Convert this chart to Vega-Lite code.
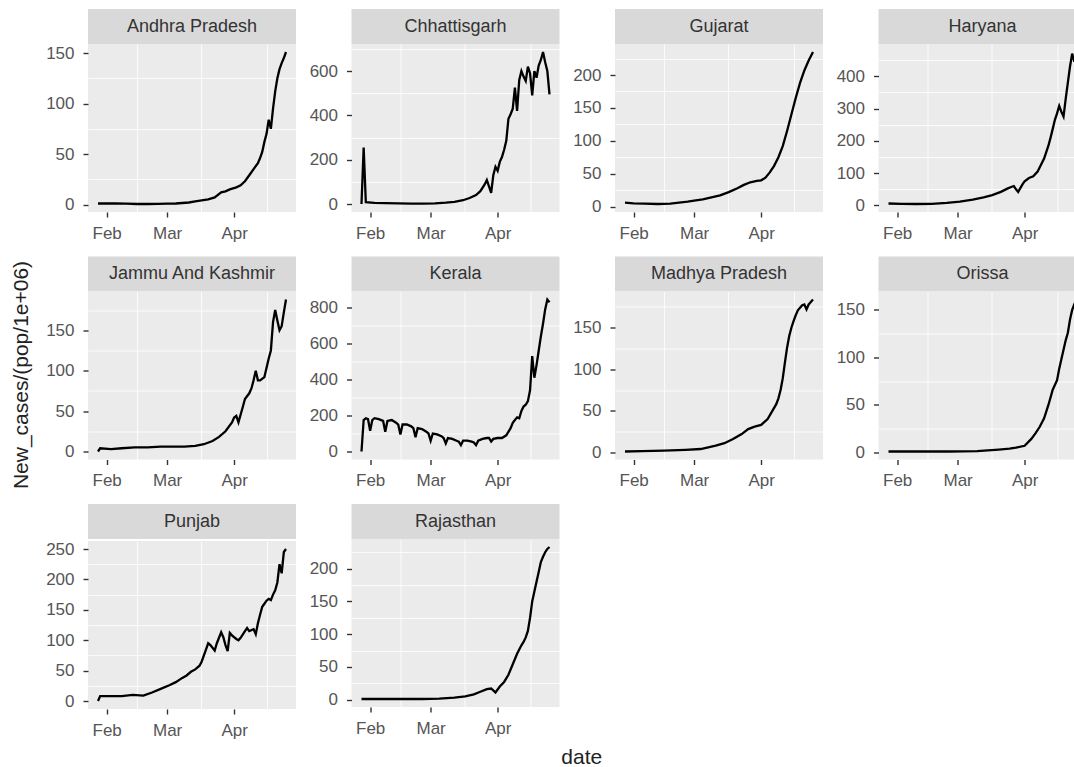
{
"$schema":"https://vega.github.io/schema/vega-lite/v6.json",
"background":"#FFFFFF",
"padding":{"left":10,"top":9,"right":0,"bottom":0},
"title":{"text":"date","orient":"bottom","anchor":"middle","fontSize":21,"fontWeight":"normal","color":"#222222","offset":6,"dx":33},
"datasets":{
"Andhra Pradesh":[{"date":"2021-01-28","v":1},{"date":"2021-02-01","v":1},{"date":"2021-02-05","v":1},{"date":"2021-02-10","v":0.8},{"date":"2021-02-15","v":0.5},{"date":"2021-02-20","v":0.5},{"date":"2021-02-25","v":0.6},{"date":"2021-03-01","v":0.8},{"date":"2021-03-05","v":1},{"date":"2021-03-08","v":1.5},{"date":"2021-03-11","v":2},{"date":"2021-03-14","v":3},{"date":"2021-03-17","v":4},{"date":"2021-03-20","v":5},{"date":"2021-03-23","v":7},{"date":"2021-03-26","v":12},{"date":"2021-03-28","v":13},{"date":"2021-03-30","v":15},{"date":"2021-04-02","v":17},{"date":"2021-04-04","v":19},{"date":"2021-04-06","v":23},{"date":"2021-04-08","v":29},{"date":"2021-04-10","v":35},{"date":"2021-04-12","v":41},{"date":"2021-04-13","v":46},{"date":"2021-04-14","v":52},{"date":"2021-04-15","v":62},{"date":"2021-04-16","v":70},{"date":"2021-04-17","v":84},{"date":"2021-04-18","v":75},{"date":"2021-04-19","v":95},{"date":"2021-04-20","v":112},{"date":"2021-04-21","v":125},{"date":"2021-04-22","v":134},{"date":"2021-04-23","v":140},{"date":"2021-04-24","v":145},{"date":"2021-04-25","v":151}],
"Chhattisgarh":[{"date":"2021-01-28","v":0},{"date":"2021-01-29","v":255},{"date":"2021-01-30","v":8},{"date":"2021-02-03","v":5},{"date":"2021-02-08","v":4},{"date":"2021-02-14","v":3},{"date":"2021-02-20","v":2},{"date":"2021-02-26","v":2},{"date":"2021-03-03","v":3},{"date":"2021-03-08","v":6},{"date":"2021-03-12","v":10},{"date":"2021-03-16","v":17},{"date":"2021-03-19","v":27},{"date":"2021-03-22","v":40},{"date":"2021-03-24","v":58},{"date":"2021-03-26","v":88},{"date":"2021-03-27","v":108},{"date":"2021-03-28","v":80},{"date":"2021-03-29","v":50},{"date":"2021-03-30","v":130},{"date":"2021-03-31","v":168},{"date":"2021-04-01","v":150},{"date":"2021-04-02","v":190},{"date":"2021-04-03","v":212},{"date":"2021-04-04","v":245},{"date":"2021-04-05","v":285},{"date":"2021-04-06","v":385},{"date":"2021-04-07","v":405},{"date":"2021-04-08","v":430},{"date":"2021-04-09","v":525},{"date":"2021-04-10","v":420},{"date":"2021-04-11","v":560},{"date":"2021-04-12","v":600},{"date":"2021-04-13","v":575},{"date":"2021-04-14","v":555},{"date":"2021-04-15","v":620},{"date":"2021-04-16","v":590},{"date":"2021-04-17","v":490},{"date":"2021-04-18","v":600},{"date":"2021-04-19","v":570},{"date":"2021-04-20","v":625},{"date":"2021-04-21","v":650},{"date":"2021-04-22","v":686},{"date":"2021-04-23","v":640},{"date":"2021-04-24","v":600},{"date":"2021-04-25","v":495}],
"Gujarat":[{"date":"2021-01-28","v":6},{"date":"2021-02-01","v":5},{"date":"2021-02-06","v":4.5},{"date":"2021-02-12","v":4},{"date":"2021-02-18","v":4.5},{"date":"2021-02-22","v":6},{"date":"2021-02-26","v":7.5},{"date":"2021-03-01","v":9},{"date":"2021-03-05","v":11},{"date":"2021-03-09","v":14},{"date":"2021-03-13","v":17},{"date":"2021-03-17","v":22},{"date":"2021-03-21","v":28},{"date":"2021-03-24","v":33},{"date":"2021-03-27","v":37},{"date":"2021-03-30","v":39},{"date":"2021-04-01","v":40},{"date":"2021-04-03","v":44},{"date":"2021-04-05","v":52},{"date":"2021-04-07","v":62},{"date":"2021-04-09","v":75},{"date":"2021-04-11","v":92},{"date":"2021-04-13","v":115},{"date":"2021-04-15","v":140},{"date":"2021-04-17","v":165},{"date":"2021-04-19","v":188},{"date":"2021-04-21","v":207},{"date":"2021-04-23","v":222},{"date":"2021-04-25","v":235}],
"Haryana":[{"date":"2021-01-28","v":6},{"date":"2021-02-03","v":5},{"date":"2021-02-10","v":4.5},{"date":"2021-02-17","v":5},{"date":"2021-02-24","v":8},{"date":"2021-03-02","v":12},{"date":"2021-03-08","v":18},{"date":"2021-03-13","v":25},{"date":"2021-03-17","v":32},{"date":"2021-03-21","v":42},{"date":"2021-03-24","v":52},{"date":"2021-03-26","v":58},{"date":"2021-03-27","v":60},{"date":"2021-03-28","v":50},{"date":"2021-03-29","v":42},{"date":"2021-03-31","v":65},{"date":"2021-04-01","v":75},{"date":"2021-04-03","v":85},{"date":"2021-04-05","v":90},{"date":"2021-04-07","v":105},{"date":"2021-04-08","v":118},{"date":"2021-04-10","v":145},{"date":"2021-04-11","v":165},{"date":"2021-04-12","v":185},{"date":"2021-04-13","v":210},{"date":"2021-04-14","v":237},{"date":"2021-04-15","v":265},{"date":"2021-04-16","v":285},{"date":"2021-04-17","v":308},{"date":"2021-04-18","v":290},{"date":"2021-04-19","v":275},{"date":"2021-04-20","v":330},{"date":"2021-04-21","v":380},{"date":"2021-04-22","v":430},{"date":"2021-04-23","v":470},{"date":"2021-04-24","v":445},{"date":"2021-04-25","v":475}],
"Jammu And Kashmir":[{"date":"2021-01-28","v":0},{"date":"2021-01-29","v":4},{"date":"2021-02-03","v":3},{"date":"2021-02-08","v":4},{"date":"2021-02-14","v":5},{"date":"2021-02-20","v":5},{"date":"2021-02-26","v":6},{"date":"2021-03-03","v":6},{"date":"2021-03-09","v":6},{"date":"2021-03-14","v":7},{"date":"2021-03-18","v":9},{"date":"2021-03-22","v":13},{"date":"2021-03-25","v":18},{"date":"2021-03-28","v":25},{"date":"2021-03-31","v":36},{"date":"2021-04-01","v":42},{"date":"2021-04-02","v":44},{"date":"2021-04-03","v":36},{"date":"2021-04-05","v":55},{"date":"2021-04-06","v":65},{"date":"2021-04-08","v":72},{"date":"2021-04-09","v":78},{"date":"2021-04-10","v":88},{"date":"2021-04-11","v":100},{"date":"2021-04-12","v":88},{"date":"2021-04-13","v":88},{"date":"2021-04-15","v":92},{"date":"2021-04-17","v":115},{"date":"2021-04-18","v":125},{"date":"2021-04-19","v":160},{"date":"2021-04-20","v":175},{"date":"2021-04-21","v":162},{"date":"2021-04-22","v":150},{"date":"2021-04-23","v":155},{"date":"2021-04-24","v":172},{"date":"2021-04-25","v":188}],
"Kerala":[{"date":"2021-01-28","v":0},{"date":"2021-01-29","v":175},{"date":"2021-01-30","v":185},{"date":"2021-01-31","v":180},{"date":"2021-02-01","v":115},{"date":"2021-02-02","v":175},{"date":"2021-02-03","v":185},{"date":"2021-02-05","v":180},{"date":"2021-02-07","v":170},{"date":"2021-02-08","v":110},{"date":"2021-02-09","v":170},{"date":"2021-02-11","v":175},{"date":"2021-02-13","v":160},{"date":"2021-02-14","v":150},{"date":"2021-02-15","v":95},{"date":"2021-02-16","v":150},{"date":"2021-02-18","v":150},{"date":"2021-02-20","v":140},{"date":"2021-02-21","v":130},{"date":"2021-02-22","v":80},{"date":"2021-02-23","v":130},{"date":"2021-02-25","v":125},{"date":"2021-02-27","v":110},{"date":"2021-02-28","v":100},{"date":"2021-03-01","v":60},{"date":"2021-03-02","v":100},{"date":"2021-03-04","v":95},{"date":"2021-03-06","v":85},{"date":"2021-03-07","v":75},{"date":"2021-03-08","v":45},{"date":"2021-03-09","v":75},{"date":"2021-03-11","v":70},{"date":"2021-03-13","v":60},{"date":"2021-03-14","v":55},{"date":"2021-03-15","v":35},{"date":"2021-03-16","v":60},{"date":"2021-03-18","v":60},{"date":"2021-03-20","v":55},{"date":"2021-03-21","v":50},{"date":"2021-03-22","v":35},{"date":"2021-03-23","v":60},{"date":"2021-03-25","v":70},{"date":"2021-03-27","v":75},{"date":"2021-03-28","v":75},{"date":"2021-03-29","v":55},{"date":"2021-03-30","v":70},{"date":"2021-04-01","v":75},{"date":"2021-04-03","v":75},{"date":"2021-04-05","v":90},{"date":"2021-04-07","v":130},{"date":"2021-04-08","v":160},{"date":"2021-04-09","v":175},{"date":"2021-04-10","v":190},{"date":"2021-04-11","v":185},{"date":"2021-04-12","v":225},{"date":"2021-04-13","v":250},{"date":"2021-04-14","v":260},{"date":"2021-04-15","v":280},{"date":"2021-04-16","v":340},{"date":"2021-04-17","v":530},{"date":"2021-04-18","v":410},{"date":"2021-04-19","v":480},{"date":"2021-04-20","v":560},{"date":"2021-04-21","v":640},{"date":"2021-04-22","v":710},{"date":"2021-04-23","v":790},{"date":"2021-04-24","v":845},{"date":"2021-04-25","v":830}],
"Madhya Pradesh":[{"date":"2021-01-28","v":1},{"date":"2021-02-05","v":1.5},{"date":"2021-02-15","v":2},{"date":"2021-02-25","v":3},{"date":"2021-03-04","v":4},{"date":"2021-03-11","v":8},{"date":"2021-03-15","v":11},{"date":"2021-03-19","v":16},{"date":"2021-03-23","v":22},{"date":"2021-03-26","v":28},{"date":"2021-03-29","v":31},{"date":"2021-04-01","v":33},{"date":"2021-04-04","v":40},{"date":"2021-04-06","v":49},{"date":"2021-04-08","v":58},{"date":"2021-04-09","v":65},{"date":"2021-04-10","v":75},{"date":"2021-04-11","v":89},{"date":"2021-04-12","v":108},{"date":"2021-04-13","v":126},{"date":"2021-04-14","v":140},{"date":"2021-04-15","v":150},{"date":"2021-04-16","v":158},{"date":"2021-04-17","v":165},{"date":"2021-04-18","v":171},{"date":"2021-04-19","v":174},{"date":"2021-04-20","v":177},{"date":"2021-04-21","v":178},{"date":"2021-04-22","v":172},{"date":"2021-04-23","v":178},{"date":"2021-04-24","v":181},{"date":"2021-04-25","v":184}],
"Orissa":[{"date":"2021-01-28","v":1},{"date":"2021-02-10","v":1},{"date":"2021-02-25","v":1},{"date":"2021-03-10","v":1.5},{"date":"2021-03-20","v":3},{"date":"2021-03-25","v":4},{"date":"2021-03-28","v":5},{"date":"2021-04-01","v":7},{"date":"2021-04-04","v":14},{"date":"2021-04-06","v":20},{"date":"2021-04-08","v":27},{"date":"2021-04-10","v":36},{"date":"2021-04-12","v":50},{"date":"2021-04-14","v":66},{"date":"2021-04-16","v":76},{"date":"2021-04-17","v":88},{"date":"2021-04-18","v":98},{"date":"2021-04-19","v":108},{"date":"2021-04-20","v":118},{"date":"2021-04-21","v":126},{"date":"2021-04-22","v":140},{"date":"2021-04-23","v":150},{"date":"2021-04-24","v":156},{"date":"2021-04-25","v":161}],
"Punjab":[{"date":"2021-01-28","v":0},{"date":"2021-01-29","v":8},{"date":"2021-02-03","v":8},{"date":"2021-02-08","v":8},{"date":"2021-02-13","v":10},{"date":"2021-02-18","v":9},{"date":"2021-02-22","v":14},{"date":"2021-02-26","v":20},{"date":"2021-03-02","v":26},{"date":"2021-03-05","v":31},{"date":"2021-03-08","v":38},{"date":"2021-03-10","v":42},{"date":"2021-03-12","v":48},{"date":"2021-03-14","v":52},{"date":"2021-03-16","v":58},{"date":"2021-03-17","v":65},{"date":"2021-03-19","v":85},{"date":"2021-03-20","v":95},{"date":"2021-03-21","v":92},{"date":"2021-03-23","v":83},{"date":"2021-03-24","v":95},{"date":"2021-03-26","v":113},{"date":"2021-03-27","v":105},{"date":"2021-03-28","v":92},{"date":"2021-03-29","v":82},{"date":"2021-03-30","v":112},{"date":"2021-03-31","v":108},{"date":"2021-04-02","v":102},{"date":"2021-04-03","v":100},{"date":"2021-04-04","v":104},{"date":"2021-04-06","v":115},{"date":"2021-04-07","v":120},{"date":"2021-04-08","v":115},{"date":"2021-04-10","v":118},{"date":"2021-04-11","v":110},{"date":"2021-04-12","v":128},{"date":"2021-04-13","v":142},{"date":"2021-04-14","v":155},{"date":"2021-04-15","v":160},{"date":"2021-04-16","v":165},{"date":"2021-04-17","v":168},{"date":"2021-04-18","v":166},{"date":"2021-04-19","v":175},{"date":"2021-04-20","v":182},{"date":"2021-04-21","v":195},{"date":"2021-04-22","v":225},{"date":"2021-04-23","v":210},{"date":"2021-04-24","v":245},{"date":"2021-04-25","v":250}],
"Rajasthan":[{"date":"2021-01-28","v":1},{"date":"2021-02-10","v":1},{"date":"2021-02-25","v":1},{"date":"2021-03-05","v":1.5},{"date":"2021-03-12","v":3},{"date":"2021-03-17","v":5},{"date":"2021-03-21","v":8},{"date":"2021-03-24","v":12},{"date":"2021-03-27","v":16},{"date":"2021-03-29","v":17},{"date":"2021-03-31","v":11},{"date":"2021-04-02","v":20},{"date":"2021-04-04","v":27},{"date":"2021-04-06","v":38},{"date":"2021-04-08","v":54},{"date":"2021-04-10","v":70},{"date":"2021-04-12","v":83},{"date":"2021-04-13","v":88},{"date":"2021-04-14","v":95},{"date":"2021-04-15","v":105},{"date":"2021-04-16","v":125},{"date":"2021-04-17","v":150},{"date":"2021-04-18","v":165},{"date":"2021-04-19","v":180},{"date":"2021-04-20","v":195},{"date":"2021-04-21","v":210},{"date":"2021-04-22","v":218},{"date":"2021-04-23","v":225},{"date":"2021-04-24","v":230},{"date":"2021-04-25","v":233}]
},
"vconcat":[{
"title":{"text":"New_cases/(pop/1e+06)","orient":"left","anchor":"middle","fontSize":21,"fontWeight":"normal","color":"#222222","offset":12},
"columns":4,
"spacing":{"row":12.5,"column":11.5},
"concat":[
{"spacing":0,"vconcat":[{"width":208,"height":35,"data":{"values":[{"state":"Andhra Pradesh"}]},"mark":{"type":"text","fontSize":18,"color":"#333333"},"encoding":{"text":{"field":"state"}},"view":{"fill":"#D9D9D9","stroke":null}},
{"width":208,"height":168,"data":{"name":"Andhra Pradesh"},"layer":[
{"mark":{"type":"line","strokeOpacity":0},"encoding":{"x":{"field":"date","type":"temporal","title":null,"scale":{"type":"utc","padding":10,"nice":false},"axis":{"values":[{"year":2021,"month":2,"date":15,"utc":true},{"year":2021,"month":3,"date":16,"hours":12,"utc":true},{"year":2021,"month":4,"date":16,"utc":true}],"labels":false,"ticks":false,"gridWidth":0.8,"orient":"bottom","minExtent":0,"maxExtent":0}},"y":{"field":"v","type":"quantitative","title":null,"scale":{"padding":8,"nice":false,"zero":false},"axis":{"values":[25,75,125],"labels":false,"ticks":false,"gridWidth":0.8,"orient":"left","minExtent":0,"maxExtent":0}}}},
{"mark":"line","encoding":{"x":{"field":"date","type":"temporal","title":null,"axis":{"values":[{"year":2021,"month":2,"date":1,"utc":true},{"year":2021,"month":3,"date":1,"utc":true},{"year":2021,"month":4,"date":1,"utc":true}],"format":"%b","orient":"bottom"}},"y":{"field":"v","type":"quantitative","title":null,"axis":{"values":[0,50,100,150],"orient":"left"}}}}
],"resolve":{"axis":{"x":"independent","y":"independent"}}}]},
{"spacing":0,"vconcat":[{"width":208,"height":35,"data":{"values":[{"state":"Chhattisgarh"}]},"mark":{"type":"text","fontSize":18,"color":"#333333"},"encoding":{"text":{"field":"state"}},"view":{"fill":"#D9D9D9","stroke":null}},
{"width":208,"height":168,"data":{"name":"Chhattisgarh"},"layer":[
{"mark":{"type":"line","strokeOpacity":0},"encoding":{"x":{"field":"date","type":"temporal","title":null,"scale":{"type":"utc","padding":10,"nice":false},"axis":{"values":[{"year":2021,"month":2,"date":15,"utc":true},{"year":2021,"month":3,"date":16,"hours":12,"utc":true},{"year":2021,"month":4,"date":16,"utc":true}],"labels":false,"ticks":false,"gridWidth":0.8,"orient":"bottom","minExtent":0,"maxExtent":0}},"y":{"field":"v","type":"quantitative","title":null,"scale":{"padding":8,"nice":false,"zero":false},"axis":{"values":[100,300,500,700],"labels":false,"ticks":false,"gridWidth":0.8,"orient":"left","minExtent":0,"maxExtent":0}}}},
{"mark":"line","encoding":{"x":{"field":"date","type":"temporal","title":null,"axis":{"values":[{"year":2021,"month":2,"date":1,"utc":true},{"year":2021,"month":3,"date":1,"utc":true},{"year":2021,"month":4,"date":1,"utc":true}],"format":"%b","orient":"bottom"}},"y":{"field":"v","type":"quantitative","title":null,"axis":{"values":[0,200,400,600],"orient":"left"}}}}
],"resolve":{"axis":{"x":"independent","y":"independent"}}}]},
{"spacing":0,"vconcat":[{"width":208,"height":35,"data":{"values":[{"state":"Gujarat"}]},"mark":{"type":"text","fontSize":18,"color":"#333333"},"encoding":{"text":{"field":"state"}},"view":{"fill":"#D9D9D9","stroke":null}},
{"width":208,"height":168,"data":{"name":"Gujarat"},"layer":[
{"mark":{"type":"line","strokeOpacity":0},"encoding":{"x":{"field":"date","type":"temporal","title":null,"scale":{"type":"utc","padding":10,"nice":false},"axis":{"values":[{"year":2021,"month":2,"date":15,"utc":true},{"year":2021,"month":3,"date":16,"hours":12,"utc":true},{"year":2021,"month":4,"date":16,"utc":true}],"labels":false,"ticks":false,"gridWidth":0.8,"orient":"bottom","minExtent":0,"maxExtent":0}},"y":{"field":"v","type":"quantitative","title":null,"scale":{"padding":8,"nice":false,"zero":false},"axis":{"values":[25,75,125,175,225],"labels":false,"ticks":false,"gridWidth":0.8,"orient":"left","minExtent":0,"maxExtent":0}}}},
{"mark":"line","encoding":{"x":{"field":"date","type":"temporal","title":null,"axis":{"values":[{"year":2021,"month":2,"date":1,"utc":true},{"year":2021,"month":3,"date":1,"utc":true},{"year":2021,"month":4,"date":1,"utc":true}],"format":"%b","orient":"bottom"}},"y":{"field":"v","type":"quantitative","title":null,"axis":{"values":[0,50,100,150,200],"orient":"left"}}}}
],"resolve":{"axis":{"x":"independent","y":"independent"}}}]},
{"spacing":0,"vconcat":[{"width":208,"height":35,"data":{"values":[{"state":"Haryana"}]},"mark":{"type":"text","fontSize":18,"color":"#333333"},"encoding":{"text":{"field":"state"}},"view":{"fill":"#D9D9D9","stroke":null}},
{"width":208,"height":168,"data":{"name":"Haryana"},"layer":[
{"mark":{"type":"line","strokeOpacity":0},"encoding":{"x":{"field":"date","type":"temporal","title":null,"scale":{"type":"utc","padding":10,"nice":false},"axis":{"values":[{"year":2021,"month":2,"date":15,"utc":true},{"year":2021,"month":3,"date":16,"hours":12,"utc":true},{"year":2021,"month":4,"date":16,"utc":true}],"labels":false,"ticks":false,"gridWidth":0.8,"orient":"bottom","minExtent":0,"maxExtent":0}},"y":{"field":"v","type":"quantitative","title":null,"scale":{"padding":8,"nice":false,"zero":false},"axis":{"values":[50,150,250,350,450],"labels":false,"ticks":false,"gridWidth":0.8,"orient":"left","minExtent":0,"maxExtent":0}}}},
{"mark":"line","encoding":{"x":{"field":"date","type":"temporal","title":null,"axis":{"values":[{"year":2021,"month":2,"date":1,"utc":true},{"year":2021,"month":3,"date":1,"utc":true},{"year":2021,"month":4,"date":1,"utc":true}],"format":"%b","orient":"bottom"}},"y":{"field":"v","type":"quantitative","title":null,"axis":{"values":[0,100,200,300,400],"orient":"left"}}}}
],"resolve":{"axis":{"x":"independent","y":"independent"}}}]},
{"spacing":0,"vconcat":[{"width":208,"height":35,"data":{"values":[{"state":"Jammu And Kashmir"}]},"mark":{"type":"text","fontSize":18,"color":"#333333"},"encoding":{"text":{"field":"state"}},"view":{"fill":"#D9D9D9","stroke":null}},
{"width":208,"height":168,"data":{"name":"Jammu And Kashmir"},"layer":[
{"mark":{"type":"line","strokeOpacity":0},"encoding":{"x":{"field":"date","type":"temporal","title":null,"scale":{"type":"utc","padding":10,"nice":false},"axis":{"values":[{"year":2021,"month":2,"date":15,"utc":true},{"year":2021,"month":3,"date":16,"hours":12,"utc":true},{"year":2021,"month":4,"date":16,"utc":true}],"labels":false,"ticks":false,"gridWidth":0.8,"orient":"bottom","minExtent":0,"maxExtent":0}},"y":{"field":"v","type":"quantitative","title":null,"scale":{"padding":8,"nice":false,"zero":false},"axis":{"values":[25,75,125,175],"labels":false,"ticks":false,"gridWidth":0.8,"orient":"left","minExtent":0,"maxExtent":0}}}},
{"mark":"line","encoding":{"x":{"field":"date","type":"temporal","title":null,"axis":{"values":[{"year":2021,"month":2,"date":1,"utc":true},{"year":2021,"month":3,"date":1,"utc":true},{"year":2021,"month":4,"date":1,"utc":true}],"format":"%b","orient":"bottom"}},"y":{"field":"v","type":"quantitative","title":null,"axis":{"values":[0,50,100,150],"orient":"left"}}}}
],"resolve":{"axis":{"x":"independent","y":"independent"}}}]},
{"spacing":0,"vconcat":[{"width":208,"height":35,"data":{"values":[{"state":"Kerala"}]},"mark":{"type":"text","fontSize":18,"color":"#333333"},"encoding":{"text":{"field":"state"}},"view":{"fill":"#D9D9D9","stroke":null}},
{"width":208,"height":168,"data":{"name":"Kerala"},"layer":[
{"mark":{"type":"line","strokeOpacity":0},"encoding":{"x":{"field":"date","type":"temporal","title":null,"scale":{"type":"utc","padding":10,"nice":false},"axis":{"values":[{"year":2021,"month":2,"date":15,"utc":true},{"year":2021,"month":3,"date":16,"hours":12,"utc":true},{"year":2021,"month":4,"date":16,"utc":true}],"labels":false,"ticks":false,"gridWidth":0.8,"orient":"bottom","minExtent":0,"maxExtent":0}},"y":{"field":"v","type":"quantitative","title":null,"scale":{"padding":8,"nice":false,"zero":false},"axis":{"values":[100,300,500,700],"labels":false,"ticks":false,"gridWidth":0.8,"orient":"left","minExtent":0,"maxExtent":0}}}},
{"mark":"line","encoding":{"x":{"field":"date","type":"temporal","title":null,"axis":{"values":[{"year":2021,"month":2,"date":1,"utc":true},{"year":2021,"month":3,"date":1,"utc":true},{"year":2021,"month":4,"date":1,"utc":true}],"format":"%b","orient":"bottom"}},"y":{"field":"v","type":"quantitative","title":null,"axis":{"values":[0,200,400,600,800],"orient":"left"}}}}
],"resolve":{"axis":{"x":"independent","y":"independent"}}}]},
{"spacing":0,"vconcat":[{"width":208,"height":35,"data":{"values":[{"state":"Madhya Pradesh"}]},"mark":{"type":"text","fontSize":18,"color":"#333333"},"encoding":{"text":{"field":"state"}},"view":{"fill":"#D9D9D9","stroke":null}},
{"width":208,"height":168,"data":{"name":"Madhya Pradesh"},"layer":[
{"mark":{"type":"line","strokeOpacity":0},"encoding":{"x":{"field":"date","type":"temporal","title":null,"scale":{"type":"utc","padding":10,"nice":false},"axis":{"values":[{"year":2021,"month":2,"date":15,"utc":true},{"year":2021,"month":3,"date":16,"hours":12,"utc":true},{"year":2021,"month":4,"date":16,"utc":true}],"labels":false,"ticks":false,"gridWidth":0.8,"orient":"bottom","minExtent":0,"maxExtent":0}},"y":{"field":"v","type":"quantitative","title":null,"scale":{"padding":8,"nice":false,"zero":false},"axis":{"values":[25,75,125,175],"labels":false,"ticks":false,"gridWidth":0.8,"orient":"left","minExtent":0,"maxExtent":0}}}},
{"mark":"line","encoding":{"x":{"field":"date","type":"temporal","title":null,"axis":{"values":[{"year":2021,"month":2,"date":1,"utc":true},{"year":2021,"month":3,"date":1,"utc":true},{"year":2021,"month":4,"date":1,"utc":true}],"format":"%b","orient":"bottom"}},"y":{"field":"v","type":"quantitative","title":null,"axis":{"values":[0,50,100,150],"orient":"left"}}}}
],"resolve":{"axis":{"x":"independent","y":"independent"}}}]},
{"spacing":0,"vconcat":[{"width":208,"height":35,"data":{"values":[{"state":"Orissa"}]},"mark":{"type":"text","fontSize":18,"color":"#333333"},"encoding":{"text":{"field":"state"}},"view":{"fill":"#D9D9D9","stroke":null}},
{"width":208,"height":168,"data":{"name":"Orissa"},"layer":[
{"mark":{"type":"line","strokeOpacity":0},"encoding":{"x":{"field":"date","type":"temporal","title":null,"scale":{"type":"utc","padding":10,"nice":false},"axis":{"values":[{"year":2021,"month":2,"date":15,"utc":true},{"year":2021,"month":3,"date":16,"hours":12,"utc":true},{"year":2021,"month":4,"date":16,"utc":true}],"labels":false,"ticks":false,"gridWidth":0.8,"orient":"bottom","minExtent":0,"maxExtent":0}},"y":{"field":"v","type":"quantitative","title":null,"scale":{"padding":8,"nice":false,"zero":false},"axis":{"values":[25,75,125],"labels":false,"ticks":false,"gridWidth":0.8,"orient":"left","minExtent":0,"maxExtent":0}}}},
{"mark":"line","encoding":{"x":{"field":"date","type":"temporal","title":null,"axis":{"values":[{"year":2021,"month":2,"date":1,"utc":true},{"year":2021,"month":3,"date":1,"utc":true},{"year":2021,"month":4,"date":1,"utc":true}],"format":"%b","orient":"bottom"}},"y":{"field":"v","type":"quantitative","title":null,"axis":{"values":[0,50,100,150],"orient":"left"}}}}
],"resolve":{"axis":{"x":"independent","y":"independent"}}}]},
{"spacing":0,"vconcat":[{"width":208,"height":35,"data":{"values":[{"state":"Punjab"}]},"mark":{"type":"text","fontSize":18,"color":"#333333"},"encoding":{"text":{"field":"state"}},"view":{"fill":"#D9D9D9","stroke":null}},
{"width":208,"height":168,"data":{"name":"Punjab"},"layer":[
{"mark":{"type":"line","strokeOpacity":0},"encoding":{"x":{"field":"date","type":"temporal","title":null,"scale":{"type":"utc","padding":10,"nice":false},"axis":{"values":[{"year":2021,"month":2,"date":15,"utc":true},{"year":2021,"month":3,"date":16,"hours":12,"utc":true},{"year":2021,"month":4,"date":16,"utc":true}],"labels":false,"ticks":false,"gridWidth":0.8,"orient":"bottom","minExtent":0,"maxExtent":0}},"y":{"field":"v","type":"quantitative","title":null,"scale":{"padding":8,"nice":false,"zero":false},"axis":{"values":[25,75,125,175,225],"labels":false,"ticks":false,"gridWidth":0.8,"orient":"left","minExtent":0,"maxExtent":0}}}},
{"mark":"line","encoding":{"x":{"field":"date","type":"temporal","title":null,"axis":{"values":[{"year":2021,"month":2,"date":1,"utc":true},{"year":2021,"month":3,"date":1,"utc":true},{"year":2021,"month":4,"date":1,"utc":true}],"format":"%b","orient":"bottom"}},"y":{"field":"v","type":"quantitative","title":null,"axis":{"values":[0,50,100,150,200,250],"orient":"left"}}}}
],"resolve":{"axis":{"x":"independent","y":"independent"}}}]},
{"spacing":0,"vconcat":[{"width":208,"height":35,"data":{"values":[{"state":"Rajasthan"}]},"mark":{"type":"text","fontSize":18,"color":"#333333"},"encoding":{"text":{"field":"state"}},"view":{"fill":"#D9D9D9","stroke":null}},
{"width":208,"height":168,"data":{"name":"Rajasthan"},"layer":[
{"mark":{"type":"line","strokeOpacity":0},"encoding":{"x":{"field":"date","type":"temporal","title":null,"scale":{"type":"utc","padding":10,"nice":false},"axis":{"values":[{"year":2021,"month":2,"date":15,"utc":true},{"year":2021,"month":3,"date":16,"hours":12,"utc":true},{"year":2021,"month":4,"date":16,"utc":true}],"labels":false,"ticks":false,"gridWidth":0.8,"orient":"bottom","minExtent":0,"maxExtent":0}},"y":{"field":"v","type":"quantitative","title":null,"scale":{"padding":8,"nice":false,"zero":false},"axis":{"values":[25,75,125,175,225],"labels":false,"ticks":false,"gridWidth":0.8,"orient":"left","minExtent":0,"maxExtent":0}}}},
{"mark":"line","encoding":{"x":{"field":"date","type":"temporal","title":null,"axis":{"values":[{"year":2021,"month":2,"date":1,"utc":true},{"year":2021,"month":3,"date":1,"utc":true},{"year":2021,"month":4,"date":1,"utc":true}],"format":"%b","orient":"bottom"}},"y":{"field":"v","type":"quantitative","title":null,"axis":{"values":[0,50,100,150,200],"orient":"left"}}}}
],"resolve":{"axis":{"x":"independent","y":"independent"}}}]}
]}],
"config":{"font":"Liberation Sans","view":{"fill":"#EBEBEB","stroke":null},"axis":{"domain":false,"grid":true,"gridColor":"#FFFFFF","gridWidth":1.6,"ticks":true,"tickColor":"#333333","tickSize":5,"tickWidth":1.4,"labelColor":"#555555","labelFontSize":17,"labelFlush":false,"labelOverlap":false},"axisX":{"labelPadding":8,"minExtent":32,"maxExtent":32},"axisY":{"labelPadding":9,"minExtent":44,"maxExtent":44},"line":{"color":"#000000","strokeWidth":2.3},"title":{"font":"Liberation Sans"}}
}
